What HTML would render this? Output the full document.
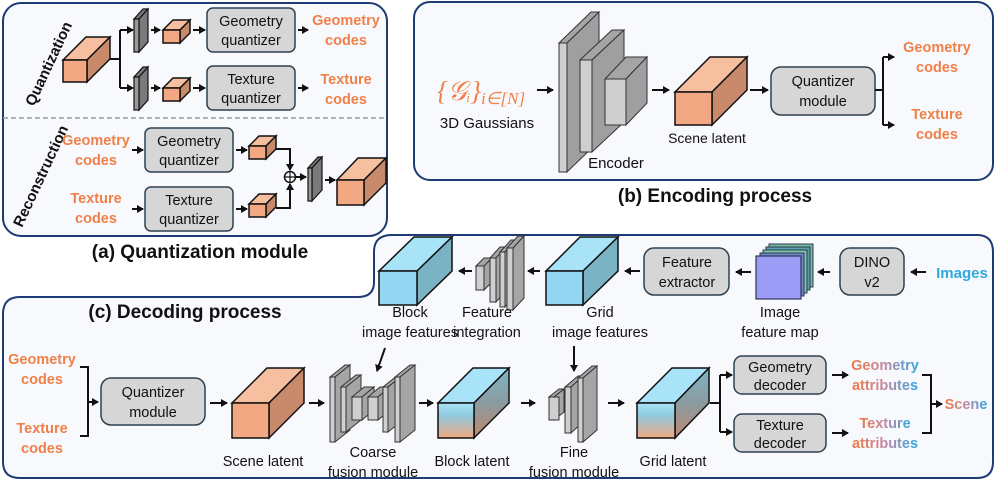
<!DOCTYPE html>
<html><head><meta charset="utf-8"><style>
html,body{margin:0;padding:0;background:#fff;}
svg{display:block;}
text{font-family:"Liberation Sans",sans-serif;}
.l{font-size:14.5px;fill:#111;text-anchor:middle;}
.o{font-size:14.5px;fill:#f0804a;font-weight:bold;text-anchor:middle;}
.t{font-size:19px;font-weight:bold;fill:#111;text-anchor:middle;}
.bx{fill:#d6d6d6;stroke:#2c4050;stroke-width:1.5;}
.fr{fill:#f2a882;stroke:#111;stroke-width:1.5;}
.tp{fill:#f6bfa0;stroke:#111;stroke-width:1.5;}
.sd{fill:#c98a6c;stroke:#111;stroke-width:1.5;}
.gf{fill:#cfcfcf;stroke:#333;stroke-width:1;}
.gs{fill:#a5a5a5;stroke:#333;stroke-width:1;}
.gd{fill:#7a7a7a;stroke:#111;stroke-width:1.2;}
.a{stroke:#111;stroke-width:2;fill:none;marker-end:url(#ar);}
.ln{stroke:#111;stroke-width:2;fill:none;}
</style></head><body>
<svg width="997" height="482" viewBox="0 0 997 482" xmlns="http://www.w3.org/2000/svg">
<defs>
<marker id="ar" markerWidth="8" markerHeight="8" refX="6" refY="4" orient="auto" markerUnits="userSpaceOnUse"><path d="M0,0 L7,4 L0,8 z" fill="#111"/></marker>
<linearGradient id="gt" x1="0" y1="0" x2="1" y2="0"><stop offset="0" stop-color="#f07a40"/><stop offset="0.5" stop-color="#c48aa8"/><stop offset="1" stop-color="#2fa8e0"/></linearGradient>
<linearGradient id="bl" x1="0" y1="0" x2="0" y2="1"><stop offset="0" stop-color="#a8e2f6"/><stop offset="0.35" stop-color="#8fcbe0"/><stop offset="1" stop-color="#f0a882"/></linearGradient>
<linearGradient id="bls" x1="0" y1="0" x2="0" y2="1"><stop offset="0" stop-color="#7fb6c8"/><stop offset="0.5" stop-color="#8a9aa0"/><stop offset="1" stop-color="#c08a70"/></linearGradient>
</defs>

<!-- Panel (a) -->
<rect x="3" y="3" width="384" height="233" rx="18" fill="#f7f9fc" stroke="#1f3b73" stroke-width="2"/>
<line x1="3" y1="118" x2="387" y2="118" stroke="#999" stroke-width="1.5" stroke-dasharray="5,3"/>
<text x="0" y="0" transform="translate(34,107) rotate(-65)" style="font-size:15px;font-weight:bold;fill:#111">Quantization</text>
<text x="0" y="0" transform="translate(22,228) rotate(-65)" style="font-size:15px;font-weight:bold;fill:#111">Reconstruction</text>
<polygon class="tp" points="63,60 86,37 110,37 87,60"/>
<polygon class="sd" points="87,60 110,37 110,59 87,82"/>
<rect class="fr" x="63" y="60" width="24" height="22"/>
<path class="ln" d="M110,59 H120 M120,30 V88"/>
<path class="a" d="M120,30 H133"/><path class="a" d="M120,88 H133"/>
<polygon class="gd" points="134,19 143,9 148,9 139,19"/><polygon class="gd" points="139,19 148,9 148,42 139,52"/><rect class="gd" x="134" y="19" width="5" height="33" style="fill:#999"/>
<polygon class="gd" points="134,77 143,67 148,67 139,77"/><polygon class="gd" points="139,77 148,67 148,100 139,110"/><rect class="gd" x="134" y="77" width="5" height="33" style="fill:#999"/>
<path class="a" d="M151,30 H160"/><path class="a" d="M151,88 H160"/>
<g><polygon class="tp" points="163,30 173,20 190,20 180,30"/><polygon class="sd" points="180,30 190,20 190,33 180,43"/><rect class="fr" x="163" y="30" width="17" height="13"/></g>
<g><polygon class="tp" points="163,88 173,78 190,78 180,88"/><polygon class="sd" points="180,88 190,78 190,91 180,101"/><rect class="fr" x="163" y="88" width="17" height="13"/></g>
<path class="a" d="M193,30 H205"/><path class="a" d="M193,88 H205"/>
<rect class="bx" x="207" y="8" width="88" height="44" rx="6"/>
<text class="l" x="251" y="26">Geometry</text><text class="l" x="251" y="45">quantizer</text>
<rect class="bx" x="207" y="66" width="88" height="44" rx="6"/>
<text class="l" x="251" y="84">Texture</text><text class="l" x="251" y="103">quantizer</text>
<path class="a" d="M298,30 H308"/><path class="a" d="M298,88 H308"/>
<text class="o" x="346" y="25">Geometry</text><text class="o" x="346" y="45">codes</text>
<text class="o" x="346" y="84">Texture</text><text class="o" x="346" y="104">codes</text>
<text class="o" x="96" y="145">Geometry</text><text class="o" x="96" y="165">codes</text>
<text class="o" x="96" y="203">Texture</text><text class="o" x="96" y="223">codes</text>
<path class="a" d="M132,150 H143"/><path class="a" d="M132,209 H143"/>
<rect class="bx" x="145" y="128" width="88" height="44" rx="6"/>
<text class="l" x="189" y="146">Geometry</text><text class="l" x="189" y="165">quantizer</text>
<rect class="bx" x="145" y="187" width="88" height="44" rx="6"/>
<text class="l" x="189" y="205">Texture</text><text class="l" x="189" y="224">quantizer</text>
<path class="a" d="M236,150 H247"/><path class="a" d="M236,209 H247"/>
<g><polygon class="tp" points="249,146 259,136 276,136 266,146"/><polygon class="sd" points="266,146 276,136 276,149 266,159"/><rect class="fr" x="249" y="146" width="17" height="13"/></g>
<g><polygon class="tp" points="249,204 259,194 276,194 266,204"/><polygon class="sd" points="266,204 276,194 276,207 266,217"/><rect class="fr" x="249" y="204" width="17" height="13"/></g>
<path class="a" d="M276,149 H290 V170"/><path class="a" d="M276,208 H290 V184"/>
<circle cx="290" cy="177" r="5.5" fill="#fff" stroke="#111" stroke-width="1.5"/>
<path class="ln" d="M284.5,177 H295.5 M290,171.5 V182.5" style="stroke-width:1.2"/>
<path class="a" d="M296,177 H306"/>
<polygon class="gd" points="308,168 318,157 322,157 312,168"/><polygon class="gd" points="312,168 322,157 322,190 312,201"/><rect class="gd" x="308" y="168" width="4" height="33" style="fill:#999"/>
<path class="a" d="M325,180 H335"/>
<polygon class="tp" points="337,180 358,158 386,158 364,180"/>
<polygon class="sd" points="364,180 386,158 386,183 364,205"/>
<rect class="fr" x="337" y="180" width="27" height="25"/>
<text class="t" x="200" y="258">(a) Quantization module</text>

<!-- Panel (b) -->
<rect x="414" y="2" width="579" height="178" rx="16" fill="#f7f9fc" stroke="#1f3b73" stroke-width="2"/>
<text x="437" y="100" style="font-family:'Liberation Serif',serif;font-size:27px;fill:#f0804a;font-style:italic">{𝒢<tspan font-size="20">ᵢ</tspan>}<tspan font-size="17" dy="4">i∈[N]</tspan></text>
<text class="l" x="487" y="128" style="font-size:15px">3D Gaussians</text>
<path class="a" d="M537,90 H553"/>
<polygon class="gs" points="559,43 591,12 599,12 567,43"/><polygon class="gs" points="567,43 599,12 599,141 567,172" style="fill:#9f9f9f"/><rect class="gf" x="559" y="43" width="8" height="129"/>
<polygon class="gs" points="580,60 612,30 624,30 592,60"/><polygon class="gs" points="592,60 624,30 624,122 592,152" style="fill:#9f9f9f"/><rect class="gf" x="580" y="60" width="12" height="92"/>
<polygon class="gs" points="605,79 626,57 647,57 626,79"/><polygon class="gs" points="626,79 647,57 647,103 626,125" style="fill:#9f9f9f"/><rect class="gf" x="605" y="79" width="21" height="46"/>
<text class="l" x="616" y="168" style="font-size:15px">Encoder</text>
<path class="a" d="M652,90 H669"/>
<polygon class="tp" points="675,92 710,57 747,57 712,92"/>
<polygon class="sd" points="712,92 747,57 747,90 712,125"/>
<rect class="fr" x="675" y="92" width="37" height="33"/>
<text class="l" x="707" y="143" style="font-size:14px">Scene latent</text>
<path class="a" d="M750,90 H768"/>
<rect class="bx" x="771" y="67" width="104" height="48" rx="10"/>
<text class="l" x="823" y="86">Quantizer</text><text class="l" x="823" y="106">module</text>
<path class="ln" d="M875,90 H883 M883,57 V125"/>
<path class="a" d="M883,57 H894"/><path class="a" d="M883,125 H894"/>
<text class="o" x="937" y="52">Geometry</text><text class="o" x="937" y="72">codes</text>
<text class="o" x="937" y="119">Texture</text><text class="o" x="937" y="139">codes</text>
<text class="t" x="715" y="202">(b) Encoding process</text>

<!-- Panel (c) -->
<path d="M3,314 Q3,297 20,297 H358 Q374,297 374,282 V252 Q374,235 392,235 H977 Q993,235 993,252 V462 Q993,478 977,478 H20 Q3,478 3,462 Z" fill="#f7f9fc" stroke="#1f3b73" stroke-width="2"/>
<text class="t" x="185" y="318">(c) Decoding process</text>
<polygon points="379,271 414,237 452,237 417,271" fill="#a9e3f7" stroke="#111" stroke-width="1.5"/>
<polygon points="417,271 452,237 452,271 417,305" fill="#7ab3c4" stroke="#111" stroke-width="1.5"/>
<rect x="379" y="271" width="38" height="34" fill="#93d6f2" stroke="#111" stroke-width="1.5"/>
<text class="l" x="410" y="317">Block</text><text class="l" x="410" y="337">image features</text>
<path class="a" d="M472,271 H459"/>
<polygon class="gs" points="476,266 484,258 492,258 484,266"/><polygon class="gs" points="484,266 492,258 492,282 484,290"/><rect class="gf" x="476" y="266" width="8" height="24"/>
<polygon class="gs" points="490,258 500,247 506,247 496,258"/><polygon class="gs" points="496,258 506,247 506,291 496,302"/><rect class="gf" x="490" y="258" width="6" height="44"/>
<polygon class="gs" points="500,252 511,240 516,240 505,252"/><polygon class="gs" points="505,252 516,240 516,295 505,307"/><rect class="gf" x="500" y="252" width="5" height="55"/>
<polygon class="gs" points="507,248 518,236 524,236 513,248"/><polygon class="gs" points="513,248 524,236 524,298 513,310"/><rect class="gf" x="507" y="248" width="6" height="62"/>
<text class="l" x="487" y="317">Feature</text><text class="l" x="487" y="337">integration</text>
<path class="a" d="M540,271 H528"/>
<polygon points="546,271 580,237 618,237 583,271" fill="#a9e3f7" stroke="#111" stroke-width="1.5"/>
<polygon points="583,271 618,237 618,271 583,305" fill="#7ab3c4" stroke="#111" stroke-width="1.5"/>
<rect x="546" y="271" width="37" height="34" fill="#93d6f2" stroke="#111" stroke-width="1.5"/>
<text class="l" x="600" y="317">Grid</text><text class="l" x="600" y="337">image features</text>
<path class="a" d="M640,271 H625"/>
<rect class="bx" x="644" y="248" width="85" height="47" rx="10"/>
<text class="l" x="687" y="267">Feature</text><text class="l" x="687" y="287">extractor</text>
<path class="a" d="M751,272 H736"/>
<rect x="769" y="244" width="44" height="43" fill="#6fbf9a" stroke="#335" stroke-width="1"/>
<rect x="766" y="247" width="44" height="43" fill="#5aa0a8" stroke="#335" stroke-width="1"/>
<rect x="763" y="250" width="44" height="43" fill="#7dc8a8" stroke="#335" stroke-width="1"/>
<rect x="760" y="253" width="44" height="43" fill="#6a88c8" stroke="#335" stroke-width="1"/>
<rect x="756" y="256" width="45" height="43" fill="#9b9cf5" stroke="#335" stroke-width="1.2"/>
<text class="l" x="780" y="317">Image</text><text class="l" x="780" y="337">feature map</text>
<path class="a" d="M830,272 H818"/>
<rect class="bx" x="840" y="248" width="64" height="47" rx="10"/>
<text class="l" x="872" y="267">DINO</text><text class="l" x="872" y="287">v2</text>
<path class="a" d="M926,272 H911"/>
<text x="962" y="278" style="font-size:15px;font-weight:bold;fill:#2fa8e0;text-anchor:middle">Images</text>
<text class="o" x="42" y="364">Geometry</text><text class="o" x="42" y="384">codes</text>
<text class="o" x="42" y="433">Texture</text><text class="o" x="42" y="453">codes</text>
<path class="ln" d="M80,367 H88 V436 H80"/><path class="a" d="M88,402 H98"/>
<rect class="bx" x="101" y="378" width="104" height="47" rx="10"/>
<text class="l" x="153" y="397">Quantizer</text><text class="l" x="153" y="417">module</text>
<path class="a" d="M210,403 H227"/>
<polygon class="tp" points="232,403 267,368 304,368 269,403"/>
<polygon class="sd" points="269,403 304,368 304,403 269,438"/>
<rect class="fr" x="232" y="403" width="37" height="35"/>
<text class="l" x="263" y="466">Scene latent</text>
<path class="a" d="M309,403 H324"/>
<g>
<polygon class="gs" points="330,377 345,365 350,365 335,377"/><polygon class="gs" points="335,377 350,365 350,430 335,442"/><rect class="gf" x="330" y="377" width="5" height="65"/>
<polygon class="gs" points="341,387 356,375 361,375 346,387"/><polygon class="gs" points="346,387 361,375 361,420 346,432"/><rect class="gf" x="341" y="387" width="5" height="45"/>
<polygon class="gs" points="352,397 364,387 374,387 362,397"/><polygon class="gs" points="362,397 374,387 374,410 362,420"/><rect class="gf" x="352" y="397" width="10" height="23"/>
<polygon class="gs" points="368,397 380,387 390,387 378,397"/><polygon class="gs" points="378,397 390,387 390,410 378,420"/><rect class="gf" x="368" y="397" width="10" height="23"/>
<polygon class="gs" points="383,387 398,375 403,375 388,387"/><polygon class="gs" points="388,387 403,375 403,420 388,432"/><rect class="gf" x="383" y="387" width="5" height="45"/>
<polygon class="gs" points="395,377 410,365 415,365 400,377"/><polygon class="gs" points="400,377 415,365 415,430 400,442"/><rect class="gf" x="395" y="377" width="5" height="65"/>
</g>
<path class="a" d="M385,348 L377,371"/>
<text class="l" x="373" y="457">Coarse</text><text class="l" x="373" y="477">fusion module</text>
<path class="a" d="M419,403 H433"/>
<polygon points="438,403 473,368 509,368 474,403" fill="#a9e3f7" stroke="#111" stroke-width="1.5"/>
<polygon points="474,403 509,368 509,403 474,438" fill="url(#bls)" stroke="#111" stroke-width="1.5"/>
<rect x="438" y="403" width="36" height="35" fill="url(#bl)" stroke="#111" stroke-width="1.5"/>
<text class="l" x="472" y="466">Block latent</text>
<path class="a" d="M521,403 H535"/>
<polygon class="gs" points="549,397 559,389 564,389 554,397"/><polygon class="gs" points="554,397 564,389 564,412 554,420"/><rect class="gf" x="549" y="397" width="10" height="23"/>
<polygon class="gs" points="565,387 578,376 583,376 571,387"/><polygon class="gs" points="571,387 583,376 583,422 571,433"/><rect class="gf" x="565" y="387" width="6" height="46"/>
<polygon class="gs" points="578,378 592,366 597,366 583,378"/><polygon class="gs" points="583,378 597,366 597,430 583,442"/><rect class="gf" x="578" y="378" width="5" height="64"/>
<path class="a" d="M574,346 V371"/>
<text class="l" x="574" y="457">Fine</text><text class="l" x="574" y="477">fusion module</text>
<path class="a" d="M608,403 H624"/>
<polygon points="637,403 672,368 709,368 675,403" fill="#a9e3f7" stroke="#111" stroke-width="1.5"/>
<polygon points="675,403 709,368 709,403 675,438" fill="url(#bls)" stroke="#111" stroke-width="1.5"/>
<rect x="637" y="403" width="38" height="35" fill="url(#bl)" stroke="#111" stroke-width="1.5"/>
<text class="l" x="673" y="466">Grid latent</text>
<path class="ln" d="M710,403 H720 M720,375 V432"/>
<path class="a" d="M720,375 H732"/><path class="a" d="M720,432 H732"/>
<rect class="bx" x="734" y="356" width="92" height="38" rx="8"/>
<text class="l" x="780" y="372">Geometry</text><text class="l" x="780" y="390">decoder</text>
<rect class="bx" x="734" y="414" width="92" height="38" rx="8"/>
<text class="l" x="780" y="430">Texture</text><text class="l" x="780" y="448">decoder</text>
<path class="a" d="M832,375 H848"/><path class="a" d="M832,433 H848"/>
<g style="font-size:14.5px;font-weight:bold;fill:url(#gt);text-anchor:middle">
<text x="885" y="370">Geometry</text><text x="885" y="390">attributes</text>
<text x="885" y="428">Texture</text><text x="885" y="448">attributes</text>
<text x="966" y="409">Scene</text>
</g>
<path class="ln" d="M922,375 H931 V433 H922"/><path class="a" d="M931,404 H942"/>
</svg>
</body></html>
